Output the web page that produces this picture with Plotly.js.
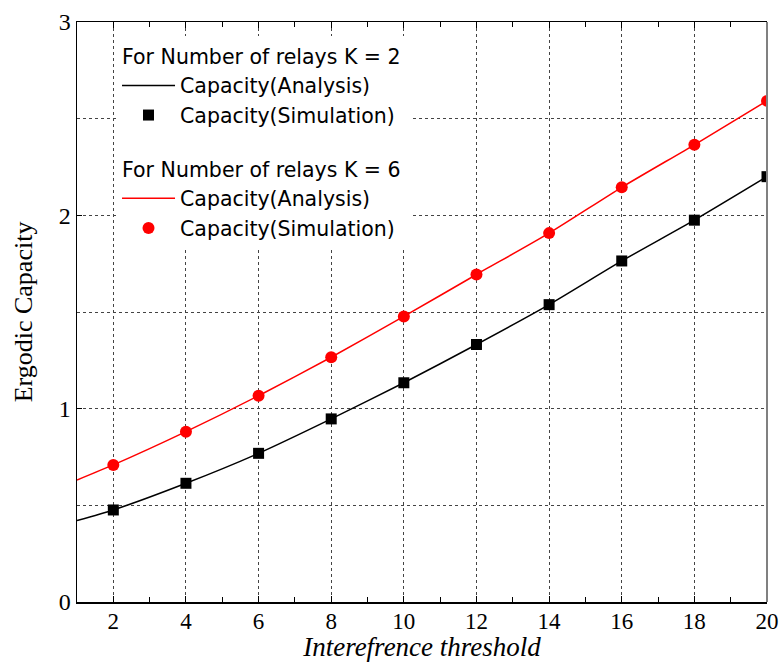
<!DOCTYPE html>
<html>
<head>
<meta charset="utf-8">
<script src="https://cdn.plot.ly/plotly-3.0.1.min.js"></script>
<style>
  html, body { margin: 0; padding: 0; background: #fff; }
  #chart { width: 780px; height: 662px; }
</style>
</head>
<body>
<div id="chart"></div>
<script>
// Interference threshold values where the simulation was sampled
const simX = [2, 4, 6, 8, 10, 12, 14, 16, 18, 20];
// Simulated ergodic capacity, K = 2 and K = 6 relays
const simK2 = [0.476, 0.614, 0.769, 0.947, 1.134, 1.332, 1.538, 1.764, 1.975, 2.200];
const simK6 = [0.709, 0.881, 1.067, 1.266, 1.477, 1.694, 1.908, 2.145, 2.365, 2.592];

// Analytical capacity curves
const anaX = [1, 2, 4, 6, 8, 10, 12, 14, 16, 18, 20];
const anaK2 = [0.421, 0.476, 0.614, 0.769, 0.947, 1.134, 1.332, 1.538, 1.764, 1.975, 2.200];
const anaK6 = [0.631, 0.709, 0.881, 1.067, 1.266, 1.477, 1.694, 1.908, 2.145, 2.365, 2.592];

const yTicks = [0, 1, 2, 3];
const groupTitles = ['For Number of relays K = 2', 'For Number of relays K = 6'];
const nameAna = 'Capacity(Analysis)';
const nameSim = 'Capacity(Simulation)';

const gridColor = '#444444';

const traces = [
  {
    x: anaX, y: anaK2, mode: 'lines', name: nameAna,
    line: { color: '#000000', width: 1.5, shape: 'spline', smoothing: 0.6 },
    legendgroup: 'k2', legendgrouptitle: { text: groupTitles[0] }
  },
  {
    x: simX, y: simK2, mode: 'markers', name: nameSim,
    marker: { color: '#000000', symbol: 'square', size: 11 },
    legendgroup: 'k2'
  },
  {
    x: anaX, y: anaK6, mode: 'lines', name: nameAna,
    line: { color: '#ff0000', width: 1.5, shape: 'spline', smoothing: 0.6 },
    legendgroup: 'k6', legendgrouptitle: { text: groupTitles[1] }
  },
  {
    x: simX, y: simK6, mode: 'markers', name: nameSim,
    marker: { color: '#ff0000', symbol: 'circle', size: 12 },
    legendgroup: 'k6'
  }
];

const serif = 'Liberation Serif, Times New Roman, serif';
const sans = 'DejaVu Sans, Arial, sans-serif';

const layout = {
  width: 780, height: 662,
  margin: { l: 77, r: 13, t: 22, b: 60 },
  paper_bgcolor: '#ffffff', plot_bgcolor: '#ffffff',
  showlegend: true,
  font: { family: serif, color: '#000000' },
  xaxis: {
    range: [1, 20], tick0: 0, dtick: 2,
    showline: true, linecolor: '#000000', linewidth: 1.5, mirror: 'ticks',
    ticks: 'inside', ticklen: 6, tickcolor: '#000000', tickwidth: 1,
    showgrid: true, gridcolor: gridColor, griddash: 'dot', gridwidth: 1,
    zeroline: false,
    minor: { dtick: 1, tick0: 0, ticks: 'inside', ticklen: 5, tickcolor: '#000000', showgrid: false },
    tickfont: { family: serif, size: 23, color: '#000000' },
    ticklabelstandoff: -2,
    title: { text: 'Interefrence threshold', font: { family: serif, size: 27, style: 'italic', color: '#000000' }, standoff: 14 }
  },
  yaxis: {
    range: [0, 3], tickmode: 'array', tickvals: yTicks,
    showline: true, linecolor: '#000000', linewidth: 1.5, mirror: false,
    ticks: 'inside', ticklen: 5, tickcolor: '#000000',
    showgrid: true, gridcolor: gridColor, griddash: 'dot', gridwidth: 1,
    zeroline: false,
    minor: { tickmode: 'linear', tick0: 0, dtick: 0.5, showgrid: true, gridcolor: gridColor, griddash: 'dot', gridwidth: 1, ticks: '' },
    tickfont: { family: serif, size: 24, color: '#000000' },
    title: { text: 'Ergodic Capacity', font: { family: serif, size: 26, color: '#000000' }, standoff: 18 }
  },
  legend: {
    x: 0.058, y: 0.976, xanchor: 'left', yanchor: 'top',
    bgcolor: '#ffffff', borderwidth: 0,
    traceorder: 'grouped', tracegroupgap: 24,
    itemwidth: 53, indentation: 0,
    font: { family: sans, size: 20.5, color: '#000000' },
    grouptitlefont: { family: sans, size: 20.5, color: '#000000' }
  },
  shapes: [
    // right frame edge
    { type: 'line', xref: 'paper', yref: 'paper', x0: 1, x1: 1, y0: 0, y1: 1,
      line: { color: '#808080', width: 2 } }
  ]
};

Plotly.newPlot('chart', traces, layout, { displayModeBar: false, staticPlot: true });
</script>
</body>
</html>
